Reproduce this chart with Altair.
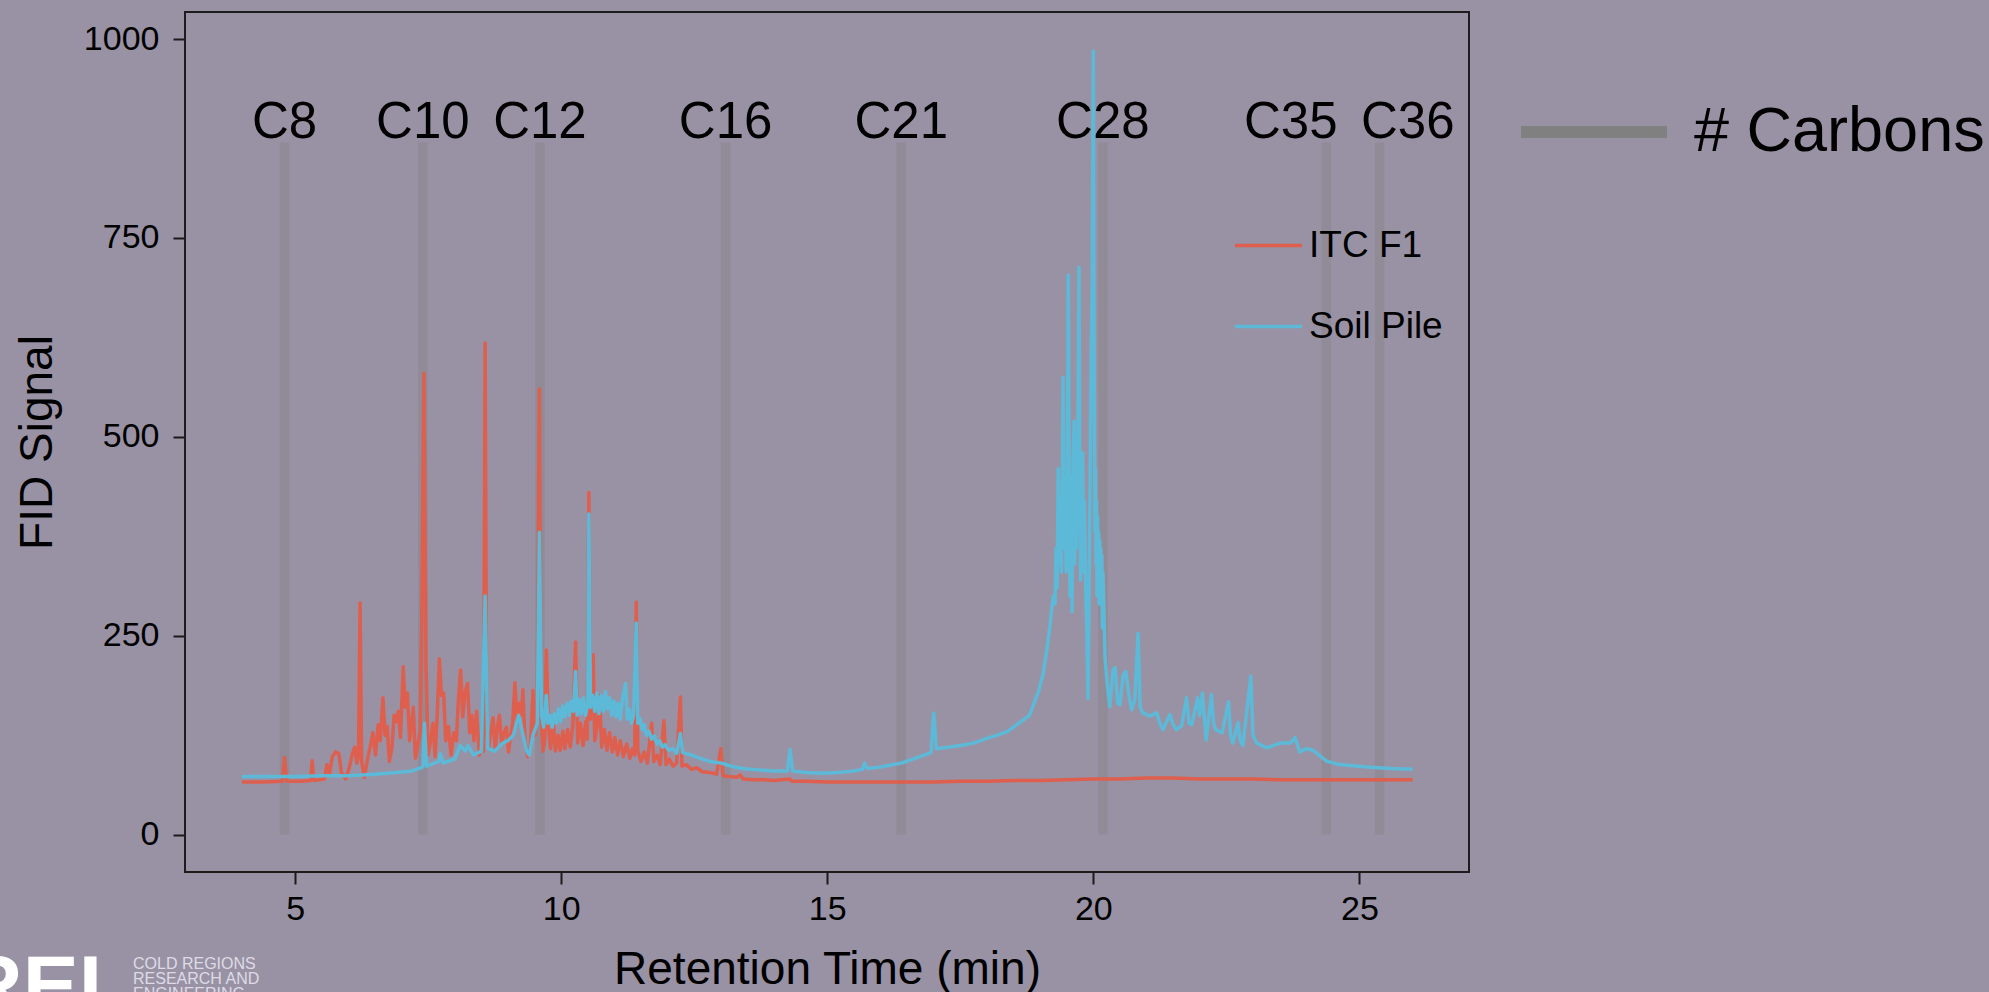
import altair as alt
import pandas as pd

# ---------------------------------------------------------------------------
# GC-FID chromatograms: retention time (min) and detector signal
# ---------------------------------------------------------------------------
itc_time = [
    4.00, 4.40, 4.76, 4.80, 4.84, 5.10, 5.29, 5.32, 5.35, 5.55, 5.60, 5.64, 5.70, 5.76,
    5.82, 5.87, 5.95, 6.02, 6.07, 6.12, 6.16, 6.19, 6.22, 6.25, 6.30, 6.36, 6.41, 6.46,
    6.51, 6.56, 6.60, 6.65, 6.69, 6.73, 6.77, 6.82, 6.86, 6.90, 6.94, 6.98, 7.03, 7.07,
    7.11, 7.15, 7.19, 7.22, 7.26, 7.30, 7.35, 7.38, 7.42, 7.46, 7.50, 7.55, 7.59, 7.63,
    7.67, 7.71, 7.75, 7.79, 7.83, 7.88, 7.93, 7.98, 8.03, 8.07, 8.11, 8.15, 8.19, 8.24,
    8.28, 8.32, 8.36, 8.41, 8.46, 8.50, 8.54, 8.57, 8.60, 8.64, 8.68, 8.72, 8.76, 8.80,
    8.84, 8.88, 8.93, 8.97, 9.01, 9.05, 9.09, 9.13, 9.17, 9.21, 9.25, 9.28, 9.32, 9.37,
    9.42, 9.47, 9.51, 9.55, 9.59, 9.62, 9.66, 9.69, 9.72, 9.76, 9.80, 9.85, 9.89, 9.94,
    9.98, 10.03, 10.07, 10.12, 10.17, 10.22, 10.27, 10.31, 10.36, 10.41, 10.46, 10.49,
    10.52, 10.55, 10.60, 10.63, 10.68, 10.72, 10.76, 10.81, 10.86, 10.91, 10.96, 11.01,
    11.06, 11.11, 11.17, 11.23, 11.29, 11.34, 11.38, 11.41, 11.44, 11.50, 11.56, 11.62,
    11.70, 11.74, 11.80, 11.86, 11.93, 11.97, 12.03, 12.10, 12.17, 12.24, 12.27, 12.35,
    12.45, 12.55, 12.65, 12.80, 12.92, 13.00, 13.04, 13.15, 13.30, 13.36, 13.42, 13.60,
    13.80, 14.00, 14.30, 14.33, 14.60, 15.00, 15.50, 16.00, 16.50, 17.00, 17.50, 18.00,
    18.50, 19.00, 19.50, 20.00, 20.50, 21.00, 21.50, 22.00, 22.50, 23.00, 23.50, 24.00,
    25.00, 26.00,
]
itc_signal = [
    66, 66, 67, 97, 67, 67, 68, 93, 68, 70, 88, 75, 98, 104,
    102, 78, 70, 85, 100, 110, 90, 98, 291, 92, 72, 95, 110, 128,
    100, 138, 118, 172, 125, 136, 92, 110, 150, 142, 155, 122, 211, 160,
    178, 118, 140, 160, 96, 110, 130, 272, 580, 210, 100, 120, 140, 98,
    150, 221, 175, 178, 118, 136, 100, 128, 118, 172, 207, 148, 178, 190,
    128, 150, 118, 155, 100, 112, 105, 618, 128, 110, 130, 147, 108, 135,
    150, 115, 128, 135, 104, 125, 142, 191, 140, 165, 150, 182, 118, 98,
    110, 181, 125, 150, 560, 150, 105, 118, 232, 135, 108, 142, 105, 125,
    106, 130, 108, 132, 110, 138, 242, 115, 140, 112, 142, 120,
    430, 145, 226, 118, 138, 175, 110, 132, 106, 128, 104, 122,
    100, 118, 98, 114, 96, 108, 100, 292, 105, 92, 104, 90,
    140, 92, 100, 88, 143, 88, 95, 86, 90, 173, 86, 88,
    82, 84, 79, 78, 76, 108, 74, 73, 72, 75, 70, 69,
    69, 68, 70, 67, 67, 66, 66, 66, 66, 66, 67, 67,
    68, 68, 69, 70, 70, 71, 71, 70, 70, 70, 69, 69,
    69, 69,
]

soil_time = [
    4.00, 4.50, 5.00, 5.50, 6.00, 6.50, 6.90, 7.20, 7.40, 7.43,
    7.47, 7.70, 7.73, 7.78, 8.00, 8.10, 8.20, 8.25, 8.35, 8.50,
    8.57, 8.62, 8.75, 8.90, 9.00, 9.10, 9.20, 9.25, 9.35, 9.40,
    9.47, 9.55, 9.59, 9.63, 9.67, 9.72, 9.75, 9.79, 9.83, 9.87,
    9.91, 9.95, 9.99, 10.03, 10.07, 10.11, 10.15, 10.19, 10.23, 10.27,
    10.30, 10.34, 10.38, 10.42, 10.46, 10.50, 10.52, 10.55, 10.59, 10.63,
    10.67, 10.71, 10.75, 10.79, 10.83, 10.87, 10.91, 10.95, 10.99, 11.03,
    11.07, 11.11, 11.15, 11.21, 11.24, 11.28, 11.32, 11.36, 11.41, 11.44,
    11.48, 11.52, 11.56, 11.60, 11.65, 11.70, 11.75, 11.80, 11.85, 11.90,
    11.95, 12.02, 12.10, 12.17, 12.24, 12.28, 12.45, 12.60, 12.80, 13.00,
    13.20, 13.40, 13.60, 13.80, 14.00, 14.25, 14.30, 14.35, 14.60, 14.90,
    15.20, 15.50, 15.66, 15.70, 15.75, 16.00, 16.40, 16.70, 16.95, 17.00,
    17.05, 17.30, 17.50, 17.75, 18.00, 18.20, 18.40, 18.60, 18.80, 18.97,
    19.05, 19.12, 19.18, 19.22, 19.25, 19.28, 19.30, 19.32, 19.34, 19.36,
    19.38, 19.40, 19.42, 19.43, 19.45, 19.47, 19.49, 19.51, 19.53, 19.55,
    19.56, 19.58, 19.60, 19.61, 19.62, 19.64, 19.65, 19.67, 19.68, 19.70,
    19.71, 19.73, 19.75, 19.76, 19.78, 19.79, 19.80, 19.82, 19.83, 19.84,
    19.86, 19.88, 19.90, 19.92, 19.94, 19.96, 19.98, 20.00, 20.02, 20.03,
    20.04, 20.05, 20.06, 20.07, 20.08, 20.09, 20.10, 20.11, 20.12, 20.13,
    20.14, 20.15, 20.16, 20.17, 20.18, 20.20, 20.22, 20.26, 20.31, 20.37,
    20.41, 20.46, 20.50, 20.56, 20.61, 20.67, 20.72, 20.78, 20.84, 20.88,
    20.93, 21.06, 21.19, 21.25, 21.31, 21.44, 21.50, 21.56, 21.66, 21.75,
    21.80, 21.85, 21.96, 22.00, 22.05, 22.12, 22.22, 22.26, 22.30, 22.42,
    22.54, 22.58, 22.62, 22.72, 22.76, 22.81, 22.96, 23.00, 23.07, 23.26,
    23.51, 23.70, 23.79, 23.88, 24.00, 24.13, 24.39, 24.63, 25.14, 25.60,
    26.00,
]
soil_signal = [
    73, 73, 73, 74, 74, 76, 78, 80, 85, 140,
    86, 92, 102, 90, 95, 112, 105, 112, 100, 105,
    300, 108, 105, 115, 118, 125, 150, 135, 105, 100,
    125, 140, 380, 150, 135, 175, 140, 150, 135, 152,
    140, 158, 142, 162, 148, 165, 150, 168, 155, 205,
    150, 170, 152, 172, 150, 165, 403, 160, 175, 155,
    178, 152, 175, 155, 180, 158, 172, 150, 168, 148,
    165, 145, 170, 190, 145, 158, 140, 150, 266, 140,
    146, 132, 138, 125, 130, 120, 124, 114, 118, 110,
    113, 106, 108, 102, 127, 103, 100, 96, 92, 90,
    86, 83, 82, 81, 80, 80, 107, 80, 78, 77,
    78, 80, 82, 90, 83, 85, 90, 97, 103, 153,
    108, 110, 112, 115, 121, 125, 130, 140, 150, 180,
    200, 230, 260, 285, 300, 290, 360, 310, 460, 340,
    420, 330, 470, 575, 360, 440, 330, 460, 703, 400,
    300, 450, 280, 380, 470, 520, 340, 460, 360, 450,
    500, 713, 420, 320, 470, 350, 480, 330, 420, 383,
    300, 250, 171, 300, 450, 600, 700, 985, 520, 380,
    460, 340, 420, 300, 400, 330, 380, 290, 370, 320,
    360, 300, 351, 260, 330, 280, 222, 190, 161, 207,
    210, 165, 163, 200, 205, 175, 157, 170, 253, 160,
    153, 149, 153, 140, 132, 151, 138, 132, 137, 172,
    140, 138, 172, 150, 178, 119, 176, 140, 132, 128,
    167, 125, 115, 141, 118, 112, 199, 125, 115, 109,
    115, 115, 122, 104, 108, 106, 92, 88, 85, 83,
    82,
]

# n-alkane reference retention times
carbon_names = ["C8", "C10", "C12", "C16", "C21", "C28", "C35", "C36"]
carbon_time = [4.80, 7.40, 9.60, 13.09, 16.39, 20.18, 24.38, 25.38]
carbon_label_time = [4.80, 7.40, 9.60, 13.09, 16.39, 20.18, 23.71, 25.91]
carbon_bottom = [0] * 8
carbon_top = [870] * 8
carbon_label_level = [876] * 8

sample_names = ["ITC F1", "Soil Pile"]
sample_colors = ["#DF5F4E", "#5CB9D7"]

logo_lines = ["COLD REGIONS", "RESEARCH AND", "ENGINEERING"]

# ---------------------------------------------------------------------------
itc = pd.DataFrame({"time": itc_time, "signal": itc_signal, "sample": "ITC F1"})
soil = pd.DataFrame({"time": soil_time, "signal": soil_signal, "sample": "Soil Pile"})
carbons = pd.DataFrame({
    "name": carbon_names,
    "time": carbon_time,
    "label_time": carbon_label_time,
    "y0": carbon_bottom,
    "y1": carbon_top,
    "label_y": carbon_label_level,
    "kind": "# Carbons",
})

FONT = "Liberation Sans"
W, H = 1284, 860

x_scale = alt.Scale(domain=[2.93, 27.06], nice=False, zero=False)
y_scale = alt.Scale(domain=[-47, 1034], nice=False, zero=False)

x_axis = alt.Axis(
    values=[5, 10, 15, 20, 25], format="d", title="Retention Time (min)", grid=False,
    domain=False, tickSize=12, tickWidth=2, tickColor="#1a1a1a", labelFontSize=34,
    labelPadding=8, labelColor="black", labelFont=FONT, titleFont=FONT,
    titleFontSize=46, titleFontWeight="normal", titleColor="black", titleX=W / 2,
    titleY=111, titleBaseline="alphabetic", titleAlign="center",
)
y_axis = alt.Axis(
    values=[0, 250, 500, 750, 1000], format="d", title="FID Signal", grid=False,
    domain=False, tickSize=12, tickWidth=2, tickColor="#1a1a1a", labelFontSize=34,
    labelPadding=14, labelColor="black", labelFont=FONT, titleFont=FONT,
    titleFontSize=46, titleFontWeight="normal", titleColor="black", titleX=-148,
    titleY=H / 2, titleBaseline="middle", titleAlign="center", titleAngle=270,
)

color_scale = alt.Scale(domain=sample_names, range=sample_colors)
sample_legend = alt.Legend(
    title=None, orient="none", legendX=1048, legendY=198,
    symbolType="stroke", symbolSize=4489, symbolStrokeWidth=3.5,
    labelFontSize=37, labelFont=FONT, labelColor="black", labelOffset=5,
    rowPadding=27, labelLimit=0,
)

rules = alt.Chart(carbons).mark_rule(strokeWidth=9.5, opacity=0.38).encode(
    x=alt.X("time:Q", scale=x_scale, axis=x_axis),
    y=alt.Y("y0:Q", scale=y_scale, axis=y_axis),
    y2="y1:Q",
    stroke=alt.Stroke(
        "kind:N",
        scale=alt.Scale(range=["#808080"]),
        legend=alt.Legend(
            title=None, orient="none", legendX=1330, legendY=41,
            symbolType="stroke", symbolSize=21316, symbolStrokeWidth=12,
            symbolOpacity=1, labelFontSize=63, labelFont=FONT, labelColor="black",
            labelOffset=21, labelLimit=0,
        ),
    ),
)

labels = alt.Chart(carbons).mark_text(
    fontSize=51, font=FONT, color="black", align="center", baseline="alphabetic"
).encode(
    x=alt.X("label_time:Q", scale=x_scale),
    y=alt.Y("label_y:Q", scale=y_scale),
    text="name:N",
)


def trace(df):
    return alt.Chart(df).mark_line(strokeWidth=3.5, strokeJoin="round").encode(
        x=alt.X("time:Q", scale=x_scale),
        y=alt.Y("signal:Q", scale=y_scale),
        color=alt.Color("sample:N", scale=color_scale, legend=sample_legend),
    )


# Laboratory logo in the lower-left corner
logo_big = alt.Chart(pd.DataFrame({"t": ["CRREL"]})).mark_text(
    fontSize=84, font=FONT, fontWeight="bold", color="white",
    align="right", baseline="alphabetic",
).encode(x=alt.value(-55), y=alt.value(1002), text="t:N")


def logo_line(i, y):
    return alt.Chart(pd.DataFrame({"t": [logo_lines[i]]})).mark_text(
        fontSize=16, font=FONT, color="#dedbe6", align="left", baseline="alphabetic",
    ).encode(x=alt.value(-52), y=alt.value(y), text="t:N")


chart = alt.layer(
    rules, labels, trace(itc), trace(soil), logo_big,
    logo_line(0, 957), logo_line(1, 972), logo_line(2, 987),
).properties(
    width=W, height=H,
    autosize=alt.AutoSizeParams(type="none"),
    padding={"left": 185, "top": 12, "right": 520, "bottom": 120},
    background="#9992A5",
).configure(
    font=FONT,
    view=alt.ViewConfig(stroke="#1c1c1c", strokeWidth=2, fill="#9992A5"),
)

chart.save("out.html", embed_options={"renderer": "svg", "actions": False})
